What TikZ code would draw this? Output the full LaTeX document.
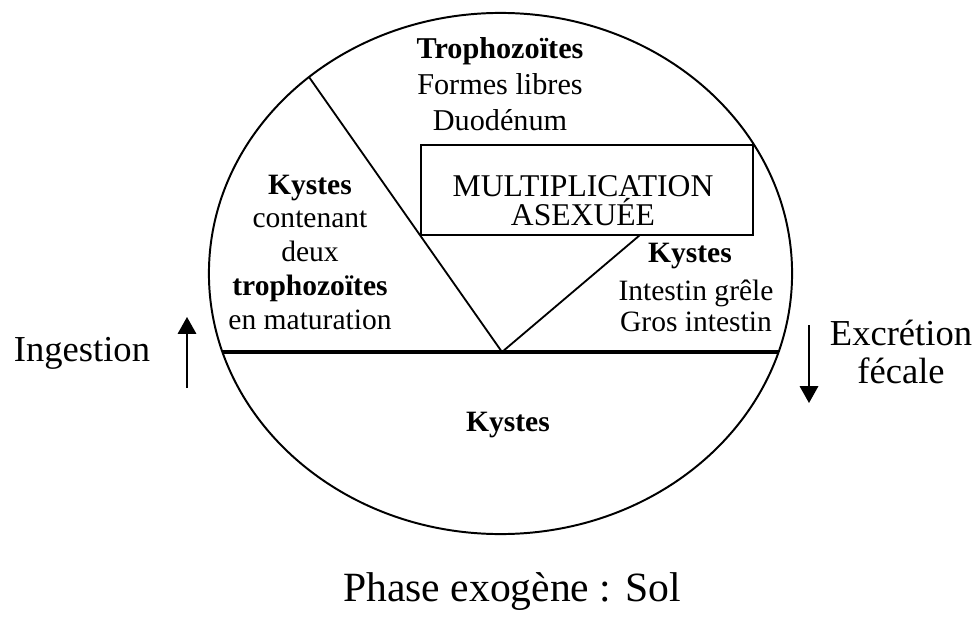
\documentclass[tikz,border=0pt]{standalone}
\usepackage{fontspec}
\setmainfont{Liberation Serif}
\usepackage{tikz}
\usetikzlibrary{arrows.meta,positioning}

\begin{document}
\begin{tikzpicture}[x=0.025cm,y=-0.025cm,
  ring/.style={line width=1.4pt},
  cut/.style={line width=1.3pt},
  floor/.style={line width=3pt},
  multbox/.style={rectangle,draw,line width=1.8pt,
                  minimum width=8.3cm,minimum height=2.25cm,inner sep=0pt},
  txt/.style={align=center,inner sep=0pt,font=\fontsize{21}{24}\selectfont},
  side/.style={align=center,inner sep=0pt,font=\fontsize{26}{27.6}\selectfont},
  flow/.style={-{Triangle[length=4.2mm,width=4.6mm]},line width=1.2pt}
]
\useasboundingbox (0,0) rectangle (980,618);

% cycle
\draw[ring] (500.5,273.5) ellipse [x radius=7.2875cm,y radius=6.5125cm];
\coordinate (rimL) at (222.5,352);
\coordinate (rimR) at (778.5,352);
\coordinate (rimT) at (309,77);
\coordinate (tip)  at (502,352);
\coordinate (vR)   at (640,235);
\draw[floor] (rimL) -- (rimR);

\node[multbox] (mult) at (587,190) {};
\node[txt,font=\fontsize{22.5}{19.5}\selectfont] (multtxt) at (583,201)
  {MULTIPLICATION\\ASEXUÉE};
\draw[cut] (rimT) -- (tip) -- (vR);

% texts inside
\node[txt,font=\fontsize{21.5}{25.5}\selectfont] (tropho) at (500,84)
  {\textbf{Trophozoïtes}\\Formes libres\\Duodénum};
\node[txt] (kleft) at (310,252)
  {\textbf{Kystes}\\contenant\\deux\\\textbf{trophozoïtes}\\en maturation};
\node[txt] (kright) at (690,256) {\textbf{Kystes}};
\node[txt,font=\fontsize{21}{22}\selectfont] (intest) at (696,306)
  {Intestin grêle\\Gros intestin};
\node[txt] (kbottom) at (508,425) {\textbf{Kystes}};

% outside
\node[side] (ingest) at (82,353) {Ingestion};
\node[side] (excret) at (901,352) {Excrétion\\fécale};
\coordinate (inA) at (187,388);
\coordinate (inB) at (187,317);
\coordinate (exA) at (809,325);
\coordinate (exB) at (809,403);
\draw[flow] (inA) -- (inB);
\draw[flow] (exA) -- (exB);

\node[inner sep=0pt,font=\fontsize{29.6}{32}\selectfont] (phase) at (512,592)
  {Phase exogène : Sol};
\end{tikzpicture}
\end{document}
